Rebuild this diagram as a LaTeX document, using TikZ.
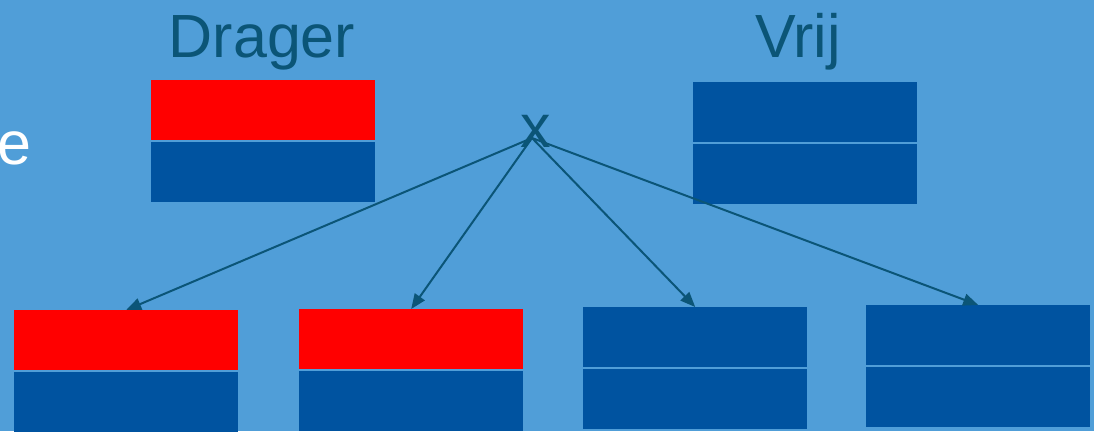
\documentclass[tikz,border=0pt]{standalone}
\usepackage{fontspec}
\setmainfont{Liberation Sans}
\usetikzlibrary{arrows.meta}
\definecolor{bgblue}{HTML}{509ED8}
\definecolor{boxblue}{HTML}{0053A0}
\definecolor{teal}{HTML}{0B5577}
\begin{document}
\begin{tikzpicture}[x=1pt, y=-1pt,
		cell/.style={rectangle, inner sep=0pt, minimum width=224pt, minimum height=60pt, anchor=north west},
		redcell/.style={cell, fill=red},
		bluecell/.style={cell, fill=boxblue},
		lbl/.style={text=teal, font=\fontsize{61}{61}\selectfont, inner sep=0pt},
		pijl/.style={teal, line width=2pt, -{Triangle[length=15pt, width=12pt]}}]
		\fill[bgblue] (0,0) rectangle (1094,431);
		\useasboundingbox (0,0) rectangle (1094,431);
		% labels
		\node[lbl, anchor=base] (drager) at (262,57) {Drager};
		\node[lbl, anchor=base] (vrij) at (798,57) {Vrij};
		\node[lbl, anchor=base] (kruis) at (536,147) {x};
		\node[text=white, font=\fontsize{61}{61}\selectfont, inner sep=0pt, anchor=base west] (e) at (-3,164) {e};
		% ouders
		\node[redcell] (d1) at (151,80) {};
		\node[bluecell] (d2) at (151,142) {};
		\node[bluecell] (v1) at (693,82) {};
		\node[bluecell] (v2) at (693,144) {};
		% nakomelingen
		\node[redcell] (a1) at (14,310) {};
		\node[bluecell] (a2) at (14,372) {};
		\node[redcell] (b1) at (299,309) {};
		\node[bluecell] (b2) at (299,371) {};
		\node[bluecell] (c1) at (583,307) {};
		\node[bluecell] (c2) at (583,369) {};
		\node[bluecell] (k1) at (866,305) {};
		\node[bluecell] (k2) at (866,367) {};
		% pijlen
		\coordinate (bron) at (532,138);
		\draw[pijl] (bron) -- (a1.north);
		\draw[pijl] (bron) -- (b1.north);
		\draw[pijl] (bron) -- (c1.north);
		\draw[pijl] (bron) -- (k1.north);
\end{tikzpicture}
\end{document}
